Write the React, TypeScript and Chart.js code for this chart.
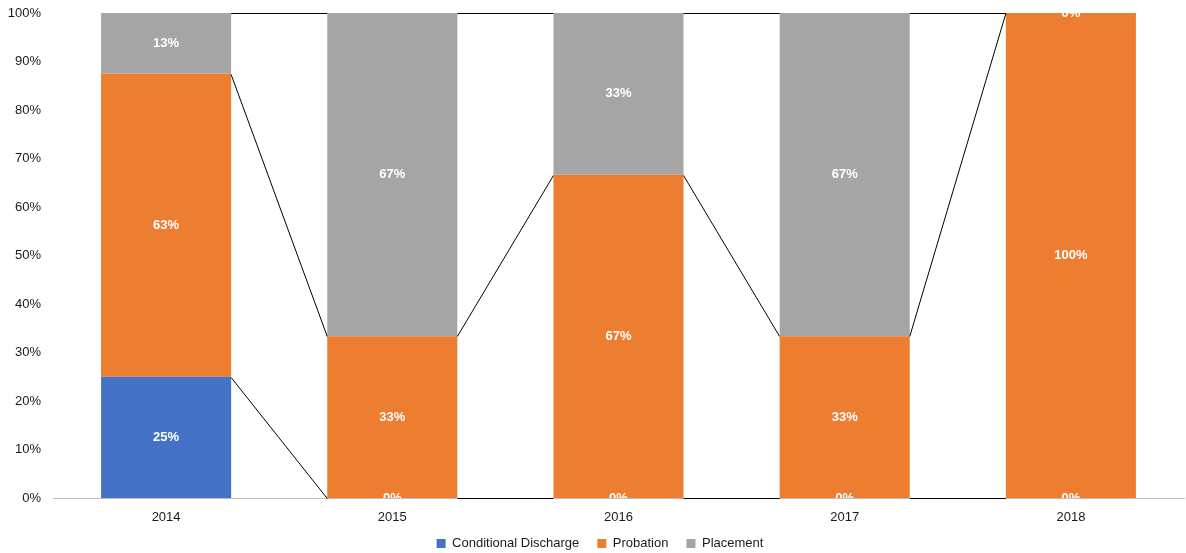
import React, { useEffect, useRef } from "react";
import { Chart, registerables } from "chart.js";

Chart.register(...registerables);

const categories = ["2014", "2015", "2016", "2017", "2018"];
const conditionalDischarge = [25, 0, 0, 0, 0];
const probation = [62.5, 33.33, 66.67, 33.33, 100];
const placement = [12.5, 66.67, 33.33, 66.67, 0];
const yTicks = [0, 10, 20, 30, 40, 50, 60, 70, 80, 90, 100];

const snap = (v: number) => Math.round(v) + 0.5;

const seriesLinesPlugin = {
  id: "seriesLines",
  afterDatasetsDraw(chart: any) {
    const ctx = chart.ctx;
    ctx.save();
    ctx.strokeStyle = "#000000";
    ctx.lineWidth = 1;
    chart.data.datasets.forEach((_ds: any, di: number) => {
      const meta = chart.getDatasetMeta(di);
      const els = meta.data;
      for (let i = 0; i < els.length - 1; i++) {
        const a = els[i];
        const b = els[i + 1];
        ctx.beginPath();
        ctx.moveTo(a.x + a.width / 2, snap(a.y));
        ctx.lineTo(b.x - b.width / 2, snap(b.y));
        ctx.stroke();
      }
    });
    ctx.restore();
  },
};

const dataLabelsPlugin = {
  id: "dataLabelsCustom",
  afterDatasetsDraw(chart: any) {
    const ctx = chart.ctx;
    const area = chart.chartArea;
    ctx.save();
    ctx.beginPath();
    ctx.rect(area.left, area.top, area.right - area.left, area.bottom - area.top);
    ctx.clip();
    ctx.fillStyle = "#ffffff";
    ctx.font = "bold 13px 'Liberation Sans', Arial, sans-serif";
    ctx.textAlign = "center";
    ctx.textBaseline = "middle";
    chart.data.datasets.forEach((ds: any, di: number) => {
      const meta = chart.getDatasetMeta(di);
      meta.data.forEach((el: any, i: number) => {
        const v = ds.data[i];
        const cy = (el.y + el.base) / 2;
        ctx.fillText(Math.round(v) + "%", el.x, cy);
      });
    });
    ctx.restore();
  },
};

const legendShiftPlugin = {
  id: "legendShift",
  afterLayout(chart: any) {
    if (chart.legend) {
      chart.legend.left += 8;
      chart.legend.right += 8;
      chart.legend.top -= 7;
      chart.legend.bottom -= 7;
    }
  },
};

export default function App() {
  const ref = useRef<HTMLCanvasElement | null>(null);
  useEffect(() => {
    if (!ref.current) return;
    const font = { family: "'Liberation Sans', Arial, sans-serif", size: 13 };
    const chart = new Chart(ref.current, {
      type: "bar",
      data: {
        labels: categories,
        datasets: [
          { label: "Conditional Discharge", data: conditionalDischarge, backgroundColor: "#4472C4" },
          { label: "Probation", data: probation, backgroundColor: "#ED7D31" },
          { label: "Placement", data: placement, backgroundColor: "#A5A5A5" },
        ],
      },
      options: {
        animation: false,
        responsive: false,
        maintainAspectRatio: false,
        layout: { padding: { left: 0, right: 2, top: 13, bottom: -14 } },
        datasets: { bar: { categoryPercentage: 0.575, barPercentage: 1 } },
        plugins: {
          legend: {
            position: "bottom",
            labels: {
              font,
              color: "#1a1a1a",
              boxWidth: 9,
              boxHeight: 9,
              padding: 18,
            },
          },
          tooltip: { enabled: false },
        },
        scales: {
          x: {
            stacked: true,
            afterFit: (s: any) => {
              s.height = 28;
            },
            grid: { display: false, drawTicks: false },
            border: { display: true, color: "#BFBFBF", width: 1 },
            ticks: { font, color: "#1a1a1a", padding: 12 },
          },
          y: {
            stacked: true,
            min: 0,
            max: 100,
            afterFit: (s: any) => {
              s.width = 53;
              s.paddingTop = 0;
              s.paddingBottom = 0;
            },
            afterBuildTicks: (s: any) => {
              s.ticks = yTicks.map((v) => ({ value: v }));
            },
            grid: { display: false, drawTicks: false },
            border: { display: false },
            ticks: {
              font,
              color: "#1a1a1a",
              padding: 12,
              callback: (v: any) => v + "%",
            },
          },
        },
      },
      plugins: [seriesLinesPlugin, dataLabelsPlugin, legendShiftPlugin],
    });
    return () => chart.destroy();
  }, []);
  return (
    <div style={{ position: "fixed", left: 0, top: 0, width: 1186, height: 553, background: "#fff" }}>
      <canvas ref={ref} width={1186} height={553} style={{ width: 1186, height: 553 }} />
    </div>
  );
}
